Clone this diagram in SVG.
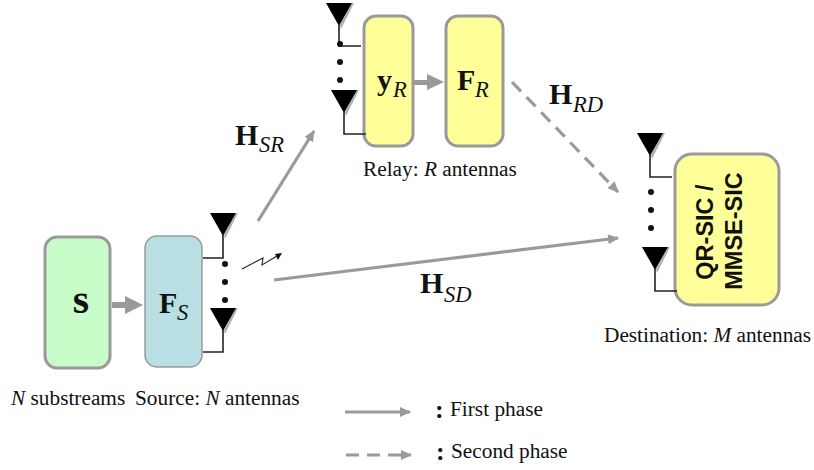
<svg xmlns="http://www.w3.org/2000/svg" width="814" height="470" viewBox="0 0 814 470">
<style>
text{font-family:"Liberation Serif",serif;fill:#111}
.lab{font-size:21.3px}
.bold{font-size:30px;font-weight:bold}
.sub{font-size:22.500px;font-style:italic}
.colon{font-size:26px;font-weight:bold}
.sans{font-family:"Liberation Sans",sans-serif;font-size:23.500px;font-weight:bold}
.wire{fill:none;stroke:#222;stroke-width:1.6}
.bolt{fill:none;stroke:#222;stroke-width:1.1}
.gl{fill:none;stroke:#9a9a9a;stroke-width:3.2}
.ant{fill:#000}
.sh{fill:#b0b0b0}
.big{fill:#999}
</style>
<defs>
<marker id="ah" markerUnits="userSpaceOnUse" markerWidth="12" markerHeight="12" refX="10" refY="5" orient="auto"><path d="M0 0L11 5L0 10Z" fill="#9a9a9a"/></marker>
<g id="antenna"><path class="sh" d="M13 0L15 0L2 26L1 22Z"/><path class="ant" d="M-13 0H13L0 23Z"/></g>
</defs>
<rect width="814" height="470" fill="#fff"/>
<g id="connectors">
<path class="gl" marker-end="url(#ah)" d="M258 221L314 131"/>
<path class="gl" marker-end="url(#ah)" d="M274 280L618 238"/>
<path class="gl" marker-end="url(#ah)" stroke-dasharray="13 8" d="M512 82L618 192"/>
<path class="gl" marker-end="url(#ah)" d="M345 412L410 412"/>
<path class="gl" marker-end="url(#ah)" stroke-dasharray="13 8" d="M346 455L411 455"/>
<path d="M112 302H125V296L143 305L125 314V308H112Z" class="big"/>
<path d="M414 80H427V74L444 82L427 90V85H414Z" class="big"/>
<path class="bolt" d="M242 269L263 258L262 265L277 256"/>
<path d="M275 254L282 253L278 260Z" fill="#111"/>
</g>
<g id="node-s"><rect x="45" y="237" width="65" height="131" rx="12" fill="#c8fcc8" stroke="#9a9a9a" stroke-width="3"/><text x="81" y="313" text-anchor="middle" style="font-size:42px;font-weight:bold">s</text></g>
<g id="node-fs"><rect x="145" y="236" width="57" height="131" rx="12" fill="#b8dfe3" stroke="#9a9a9a" stroke-width="1.500"/><text x="159" y="313" class="bold">F</text><text x="177" y="320" class="sub">S</text></g>
<g id="source-antennas">
<use href="#antenna" x="223" y="213"/>
<path class="wire" d="M223 235V258H203M223 330V352H203"/>
<use href="#antenna" x="223" y="308"/>
<circle cx="225" cy="264" r="3" fill="#111"/><circle cx="225" cy="282" r="3" fill="#111"/><circle cx="225" cy="300" r="3" fill="#111"/>
</g>
<g id="node-yr"><rect x="364" y="16" width="49" height="130" rx="12" fill="#ffff99" stroke="#9a9a9a" stroke-width="3"/><text x="377" y="90" class="bold">y</text><text x="393" y="97" class="sub">R</text></g>
<g id="node-fr"><rect x="446" y="16" width="57" height="130" rx="12" fill="#ffff99" stroke="#9a9a9a" stroke-width="3"/><text x="457" y="90" class="bold">F</text><text x="475" y="97" class="sub">R</text></g>
<g id="relay-antennas">
<use href="#antenna" x="339" y="3"/>
<path class="wire" d="M339 25V46H361M344 112V134H366"/>
<use href="#antenna" x="344" y="90"/>
<circle cx="340" cy="44" r="3" fill="#111"/><circle cx="340" cy="62" r="3" fill="#111"/><circle cx="340" cy="80" r="3" fill="#111"/>
</g>
<g id="node-dest"><rect x="675" y="154" width="104" height="151" rx="17" fill="#ffff99" stroke="#9a9a9a" stroke-width="3"/>
<text transform="translate(713 232) rotate(-90)" text-anchor="middle" class="sans">QR-SIC /</text>
<text transform="translate(742 231) rotate(-90)" text-anchor="middle" class="sans">MMSE-SIC</text></g>
<g id="dest-antennas">
<use href="#antenna" x="650" y="133"/>
<path class="wire" d="M650 155V177H672M655 269V291H677"/>
<use href="#antenna" x="655" y="247"/>
<circle cx="651" cy="192" r="3" fill="#111"/><circle cx="651" cy="210" r="3" fill="#111"/><circle cx="651" cy="228" r="3" fill="#111"/>
</g>
<g id="labels">
<text x="235" y="145" class="bold">H</text><text x="259" y="152" class="sub">SR</text>
<text x="549" y="104" class="bold">H</text><text x="573" y="112" class="sub">RD</text>
<text x="420" y="293" class="bold">H</text><text x="444" y="302" class="sub">SD</text>
<text x="363" y="176" class="lab">Relay: <tspan font-style="italic">R</tspan> antennas</text>
<text x="11" y="405" class="lab"><tspan font-style="italic">N</tspan> substreams</text>
<text x="135" y="405" class="lab">Source: <tspan font-style="italic">N</tspan> antennas</text>
<text x="604" y="342" class="lab">Destination: <tspan font-style="italic">M</tspan> antennas</text>
<text x="435" y="418" class="colon">:</text><text x="450" y="416" class="lab">First phase</text>
<text x="436" y="460" class="colon">:</text><text x="451" y="458" class="lab">Second phase</text>
</g>
</svg>
